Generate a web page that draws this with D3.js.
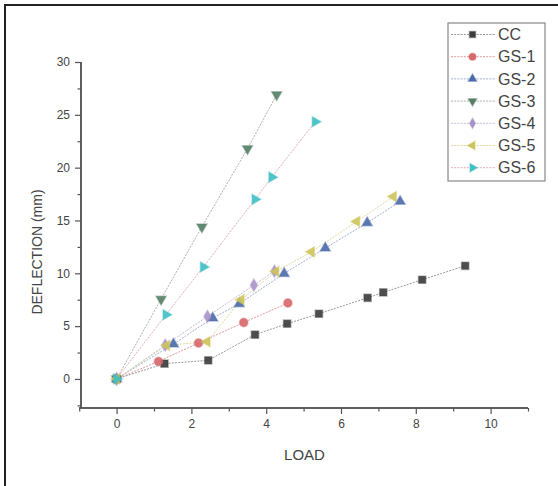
<!DOCTYPE html>
<html>
<head>
<meta charset="utf-8">
<script src="https://cdn.jsdelivr.net/npm/d3@7"></script>
<style>
  html, body { margin: 0; padding: 0; background: #fff; }
  svg { display: block; font-family: "Liberation Sans", Arial, sans-serif; }
</style>
</head>
<body>
<svg id="chart" width="558" height="486"></svg>
<script>
// Load (x) vs deflection (y) readings for each specimen
const seriesNames = ["CC", "GS-1", "GS-2", "GS-3", "GS-4", "GS-5", "GS-6"];

const loadCC   = [0, 1.28, 2.45, 3.70, 4.56, 5.41, 6.71, 7.13, 8.17, 9.32];
const deflCC   = [0, 1.45, 1.76, 4.19, 5.23, 6.17, 7.68, 8.19, 9.39, 10.71];

const loadGS1  = [0, 1.12, 2.19, 3.40, 4.58];
const deflGS1  = [0, 1.66, 3.40, 5.35, 7.18];

const loadGS2  = [0, 1.52, 2.57, 3.28, 4.48, 5.58, 6.70, 7.58];
const deflGS2  = [0, 3.31, 5.76, 7.12, 9.98, 12.38, 14.78, 16.80];

const loadGS3  = [0, 1.19, 2.28, 3.50, 4.28];
const deflGS3  = [0, 7.56, 14.40, 21.80, 26.90];

const loadGS4  = [0, 1.30, 2.43, 3.67, 4.22];
const deflGS4  = [0, 3.20, 5.92, 8.88, 10.20];

const loadGS5  = [0, 1.34, 2.42, 3.33, 4.26, 5.21, 6.42, 7.40];
const deflGS5  = [0, 3.18, 3.52, 7.50, 10.17, 12.03, 14.90, 17.26];

const loadGS6  = [0, 1.32, 2.32, 3.70, 4.15, 5.31];
const deflGS6  = [0, 6.08, 10.60, 17.00, 19.10, 24.35];

const xTicksMajor = [0, 2, 4, 6, 8, 10];
const xTicksMinor = [-1, 1, 3, 5, 7, 9, 11];
const yTicksMajor = [0, 5, 10, 15, 20, 25, 30];
const yTicksMinor = [-2.5, 2.5, 7.5, 12.5, 17.5, 22.5, 27.5];

const xLabel = "LOAD";
const yLabel = "DEFLECTION (mm)";

// Drawing styles per series
const colors = ["#3b3b3b", "#d6676b", "#4a6aa8", "#557f66", "#a893c9", "#cdc45a", "#3fbfc4"];
const lineColors = ["#9a9a9a", "#e3999b", "#a0b0d4", "#b8adad", "#cabddf", "#e0d99c", "#e3aebb"];
const shapes = [
  { type: d3.symbolSquare,   rot: 0,   size: 52 },
  { type: d3.symbolCircle,   rot: 0,   size: 56 },
  { type: d3.symbolTriangle, rot: 0,   size: 44 },
  { type: d3.symbolTriangle, rot: 180, size: 44 },
  { type: d3.symbolDiamond,  rot: 0,   size: 44 },
  { type: d3.symbolTriangle, rot: -90, size: 44 },
  { type: d3.symbolTriangle, rot: 90,  size: 44 }
];

const xs = [loadCC, loadGS1, loadGS2, loadGS3, loadGS4, loadGS5, loadGS6];
const ys = [deflCC, deflGS1, deflGS2, deflGS3, deflGS4, deflGS5, deflGS6];
const series = seriesNames.map((name, i) => ({
  name, i,
  points: xs[i].map((x, k) => ({ x, y: ys[i][k] }))
}));

const svg = d3.select("#chart");

// Outer frame (top and left edges)
svg.append("line").attr("x1", 4).attr("x2", 558).attr("y1", 5).attr("y2", 5)
  .attr("stroke", "#222").attr("stroke-width", 2);
svg.append("line").attr("x1", 5).attr("x2", 5).attr("y1", 4).attr("y2", 486)
  .attr("stroke", "#222").attr("stroke-width", 2);

const plot = { left: 81, right: 528, top: 62, bottom: 408 };
const x = d3.scaleLinear().domain([-1, 11]).range([plot.left - 1.8, plot.right]);
const y = d3.scaleLinear().domain([-2.75, 30]).range([plot.bottom, plot.top]);

const axisColor = "#555";
const textColor = "#444";

// X axis
const gx = svg.append("g").attr("transform", `translate(0,${plot.bottom})`);
gx.call(d3.axisBottom(x).tickValues(xTicksMajor).tickSize(6).tickPadding(5).tickFormat(d3.format("d")));
gx.append("g").call(d3.axisBottom(x).tickValues(xTicksMinor).tickSize(3.5).tickFormat(""));
// Y axis
const gy = svg.append("g").attr("transform", `translate(${plot.left},0)`);
gy.call(d3.axisLeft(y).tickValues(yTicksMajor).tickSize(6).tickPadding(5).tickFormat(d3.format("d")));
gy.append("g").call(d3.axisLeft(y).tickValues(yTicksMinor).tickSize(3.5).tickFormat(""));

svg.selectAll(".domain").attr("stroke", axisColor).attr("stroke-width", 1.5);
svg.selectAll(".tick line").attr("stroke", axisColor).attr("stroke-width", 1.2);
svg.selectAll(".tick text").attr("fill", textColor).style("font-size", "12px")
  .style("font-family", "'Liberation Sans', Arial, sans-serif");
// axis lines span exactly the data range, without end caps
gx.selectAll(".domain").attr("d", `M${x(-1)},0H${x(11)}`);
gy.selectAll(".domain").attr("d", `M0,${y(-2.75)}V${y(30)}`);
gx.select("g").selectAll(".domain").remove();
gy.select("g").selectAll(".domain").remove();

// Axis titles
svg.append("text").attr("x", (plot.left + plot.right) / 2).attr("y", 460)
  .attr("text-anchor", "middle").attr("fill", textColor)
  .style("font-size", "15px").text(xLabel);
svg.append("text")
  .attr("transform", `translate(42,252) rotate(-90)`)
  .attr("text-anchor", "middle").attr("fill", textColor)
  .style("font-size", "14px").text(yLabel);

// Connecting lines
const line = d3.line().x(d => x(d.x)).y(d => y(d.y));
svg.append("g").selectAll("path").data(series).join("path")
  .attr("d", d => line(d.points))
  .attr("fill", "none")
  .attr("stroke", d => lineColors[d.i])
  .attr("stroke-width", 1)
  .attr("stroke-dasharray", "2,1.2");

// Markers
const symbolPath = (s, scale = 1) => d3.symbol().type(s.type).size(s.size * scale)();
series.forEach(s => {
  svg.append("g").selectAll("path").data(s.points).join("path")
    .attr("d", symbolPath(shapes[s.i]))
    .attr("transform", d => `translate(${x(d.x)},${y(d.y)}) rotate(${shapes[s.i].rot})`)
    .attr("fill", colors[s.i])
    .attr("fill-opacity", 0.9)
    .attr("stroke", colors[s.i])
    .attr("stroke-opacity", 0.4)
    .attr("stroke-width", 1.5);
});

// Legend
const lg = { x0: 448, y0: 23, w: 97, h: 158, row0: 34.5, step: 22.2 };
svg.append("rect").attr("x", lg.x0).attr("y", lg.y0).attr("width", lg.w).attr("height", lg.h)
  .attr("fill", "#fff").attr("stroke", "#888").attr("stroke-width", 1.2);
const rows = svg.append("g").selectAll("g").data(series).join("g")
  .attr("transform", d => `translate(0,${lg.row0 + d.i * lg.step})`);
rows.append("line").attr("x1", 451).attr("x2", 496).attr("y1", 0).attr("y2", 0)
  .attr("stroke", d => lineColors[d.i]).attr("stroke-width", 1).attr("stroke-dasharray", "2,1.2");
rows.append("path")
  .attr("d", d => symbolPath(shapes[d.i], 0.7))
  .attr("transform", d => `translate(472.5,0) rotate(${shapes[d.i].rot})`)
  .attr("fill", d => colors[d.i])
  .attr("stroke", d => colors[d.i]).attr("stroke-opacity", 0.4).attr("stroke-width", 1.5);
rows.append("text").attr("x", 498).attr("y", 0).attr("dy", "0.36em")
  .attr("fill", "#444").style("font-size", "16px").text(d => d.name);
</script>
</body>
</html>
